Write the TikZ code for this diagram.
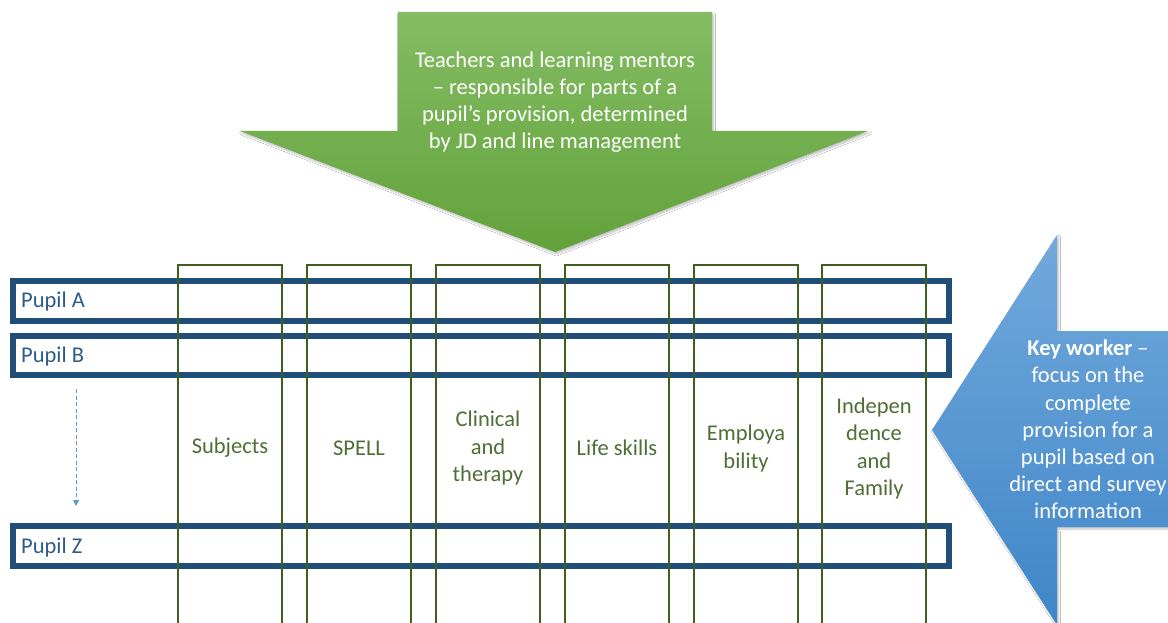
\documentclass[tikz,border=0pt]{standalone}
\usepackage{fontspec}
\setmainfont{Carlito}
\usetikzlibrary{arrows.meta,shadows.blur}
\definecolor{pupilblue}{HTML}{1F4E79}
\definecolor{pupiltext}{HTML}{2E5C8A}
\definecolor{colgreen}{HTML}{3E5F1F}
\definecolor{coltext}{HTML}{4F6F35}
\definecolor{gtop}{HTML}{84BC64}
\definecolor{gbot}{HTML}{62A23A}
\definecolor{btop}{HTML}{72A9DC}
\definecolor{bbot}{HTML}{3F86C8}
\definecolor{dashblue}{HTML}{5B9BD5}
\begin{document}
\begin{tikzpicture}[x=1pt,y=-1pt,
  txt/.style={font=\fontsize{22.5}{27.2}\selectfont, align=center, inner sep=0pt},
  pupilbox/.style={draw=pupilblue, line width=6pt, minimum width=936pt, inner sep=0pt, outer sep=0pt},
  pupillabel/.style={txt, text=pupiltext, anchor=west},
  colbox/.style={draw=colgreen, line width=2pt, minimum width=104pt, minimum height=375pt, inner sep=0pt, outer sep=0pt},
  collabel/.style={txt, text=coltext},
  bigarrowtext/.style={txt, text=white},
  softshadow/.style={blur shadow={shadow xshift=1.5pt, shadow yshift=-2pt, shadow blur steps=6, shadow opacity=25}}
]
\clip (0,0) rectangle (1168,623);
\fill[white] (0,0) rectangle (1168,623);

% green arrow
\path[softshadow, top color=gtop, bottom color=gbot, draw=none]
  (398,12) -- (712,12) -- (712,131) -- (868,131) -- (555,252) -- (240,131) -- (398,131) -- cycle;
\node[bigarrowtext] (gtext) at (555,102) {Teachers and learning mentors\\ -- responsible for parts of a\\ pupil's provision, determined\\ by JD and line management};

% blue arrow
\path[softshadow, top color=btop, bottom color=bbot, draw=none]
  (932,430) -- (1057,235) -- (1057,331) -- (1180,331) -- (1180,527) -- (1057,527) -- (1057,625) -- cycle;
\node[bigarrowtext] (ktext) at (1088,429.5) {\textbf{Key worker} --\\ focus on the\\ complete\\ provision for a\\ pupil based on\\ direct and survey\\ information};

% pupil rows
\node[pupilbox, minimum height=40pt] (pA) at (481,301) {};
\node[pupilbox, minimum height=39pt] (pB) at (481,355.5) {};
\node[pupilbox, minimum height=40pt] (pZ) at (481,546) {};
\node[pupillabel] (lA) at (21,301.5) {Pupil A};
\node[pupillabel] (lB) at (21,356.5) {Pupil B};
\node[pupillabel] (lZ) at (21,547.5) {Pupil Z};

% dashed arrow
\coordinate (ds) at (76,389);
\coordinate (de) at (76,506);
\draw[dashblue, line width=1pt, dash pattern=on 4pt off 2.5pt, -{Triangle[length=6pt,width=6pt]}] (ds) -- (de);

% columns
\node[colbox] (c1) at (230,452.5) {};
\node[colbox] (c2) at (359,452.5) {};
\node[colbox] (c3) at (488,452.5) {};
\node[colbox] (c4) at (617,452.5) {};
\node[colbox] (c5) at (746,452.5) {};
\node[colbox] (c6) at (874,452.5) {};
\node[collabel] (t1) at (230,448) {Subjects};
\node[collabel] (t2) at (359,448) {SPELL};
\node[collabel] (t3) at (488,448) {Clinical\\ and\\ therapy};
\node[collabel] (t4) at (617,448) {Life skills};
\node[collabel] (t5) at (746,448.5) {Employa\\ bility};
\node[collabel] (t6) at (874,448.5) {Indepen\\ dence\\ and\\ Family};
\end{tikzpicture}
\end{document}
